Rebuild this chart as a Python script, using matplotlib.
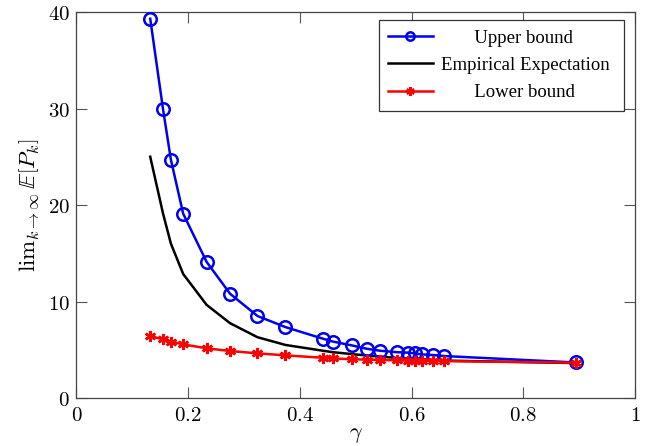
import matplotlib
matplotlib.use('Agg')
import matplotlib.pyplot as plt
from matplotlib.ticker import FuncFormatter

# Data
gamma = [0.132, 0.155, 0.169, 0.191, 0.233, 0.275, 0.324, 0.374, 0.441, 0.459,
         0.493, 0.520, 0.543, 0.573, 0.594, 0.606, 0.618, 0.639, 0.658, 0.894]
upper = [39.3, 29.9, 24.7, 19.1, 14.1, 10.8, 8.5, 7.35, 6.15, 5.85,
         5.45, 5.1, 4.9, 4.75, 4.7, 4.62, 4.52, 4.45, 4.35, 3.68]
empirical = [25.0, 19.1, 16.0, 12.85, 9.65, 7.75, 6.3, 5.5, 4.9, 4.75,
             4.55, 4.4, 4.3, 4.15, 4.08, 4.03, 4.0, 3.95, 3.88, 3.62]
lower = [6.42, 6.08, 5.85, 5.56, 5.15, 4.87, 4.63, 4.42, 4.17, 4.1,
         4.02, 3.97, 3.95, 3.9, 3.87, 3.86, 3.85, 3.83, 3.82, 3.66]

xticks = [0, 0.2, 0.4, 0.6, 0.8, 1]
yticks = [0, 10, 20, 30, 40]
labels = ['Upper bound', 'Empirical Expectation', 'Lower bound']

plt.rcParams['mathtext.fontset'] = 'cm'

fig = plt.figure(figsize=(6.51, 4.46), dpi=100)
ax = fig.add_axes([0.1175, 0.1076, 0.858, 0.8655])

ax.plot(gamma, upper, color='#0000ee', lw=1.8, marker='o', ms=9,
        mfc='none', mec='#0000ee', mew=1.8, label=labels[0], zorder=3)
ax.plot(gamma, empirical, color='black', lw=1.8, label=labels[1], zorder=2)
ax.plot(gamma, lower, color='#ff0000', lw=1.8, marker=(6, 2, 0), ms=8,
        mec='#ff0000', mew=1.8, label=labels[2], zorder=4)

ax.set_xlim(0, 1)
ax.set_ylim(0, 40)
ax.set_xticks(xticks)
ax.set_yticks(yticks)
fmt = FuncFormatter(lambda v, p: f'${v:g}$')
ax.xaxis.set_major_formatter(fmt)
ax.yaxis.set_major_formatter(fmt)
ax.tick_params(direction='in', length=8, width=0.8, color='#555555',
               labelsize=15, top=True, right=True, pad=5)
for s in ax.spines.values():
    s.set_color('#444444')
    s.set_linewidth(0.9)

ax.set_xlabel(r'$\gamma$', fontsize=16, labelpad=0)
ax.set_ylabel(r'$\mathrm{lim}_{k\to\infty}\,\mathbb{E}\left[P_k\right]$',
              fontsize=16.5, labelpad=5)

# centre the legend texts like pgfplots does, by padding with spaces
renderer = fig.canvas.get_renderer()
lfont = {'family': 'Liberation Serif', 'size': 13.5}
widths = [fig.text(0, 0, t, fontdict=lfont).get_window_extent(renderer).width for t in labels]
sp = fig.text(0, 0, 'a a', fontdict=lfont).get_window_extent(renderer).width - \
     fig.text(0, 0, 'aa', fontdict=lfont).get_window_extent(renderer).width
for t in list(fig.texts):
    t.remove()
wmax = max(widths)
padded = []
for t, w in zip(labels, widths):
    n = int(round((wmax - w) / 2 / sp))
    padded.append(' ' * n + t + ' ' * (n + 1))
handles, _ = ax.get_legend_handles_labels()
leg = ax.legend(handles, padded, loc='upper right', bbox_to_anchor=(0.980, 0.979),
                borderaxespad=0, numpoints=1,
                prop={'family': 'Liberation Serif', 'size': 13.5},
                fancybox=False, edgecolor='#333333', framealpha=1,
                handlelength=2.4, labelspacing=0.55, borderpad=0.5, handletextpad=0.43)
leg.get_frame().set_linewidth(0.9)
for h in leg.legend_handles:
    h.set_markersize(6)

fig.savefig('out.png', dpi=100)
